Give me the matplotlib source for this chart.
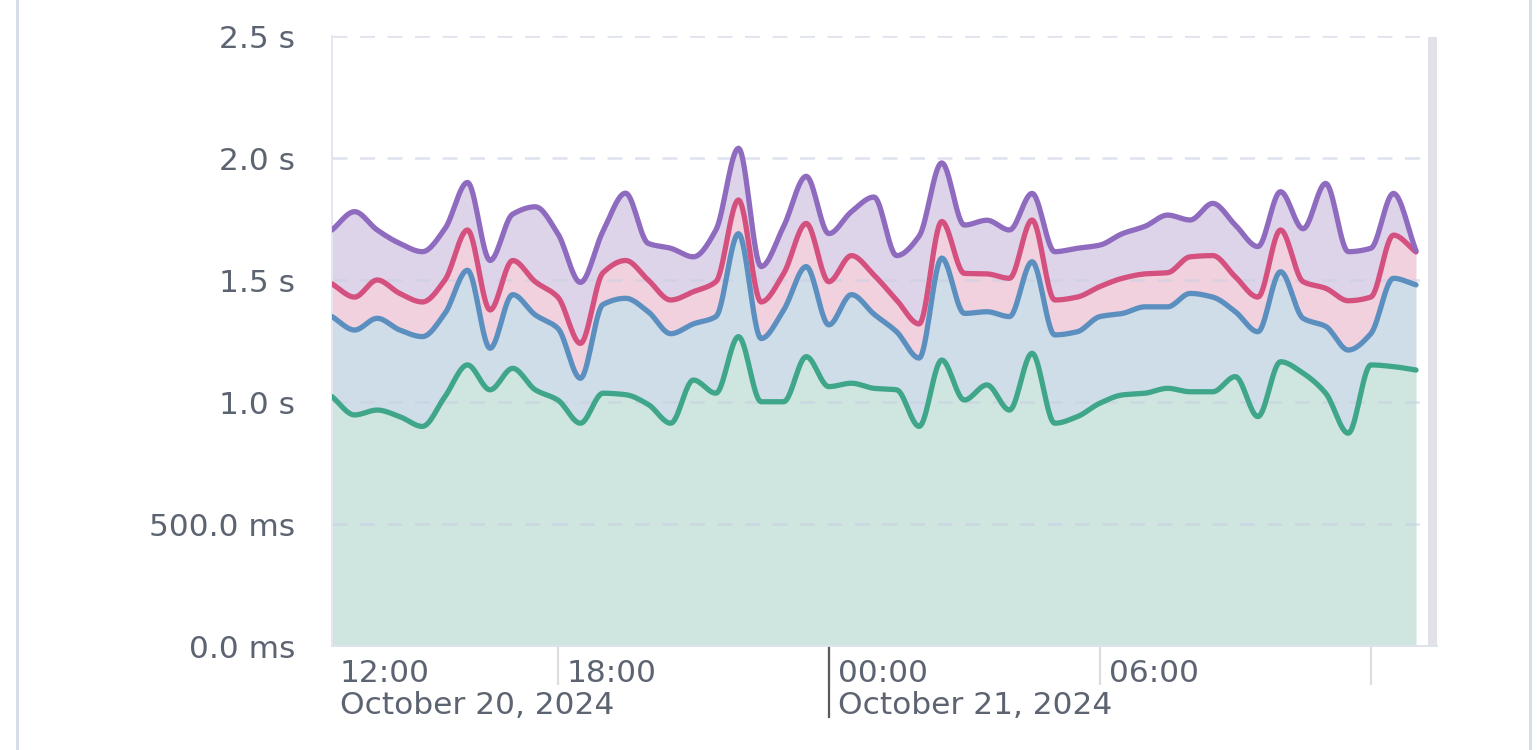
import numpy as np
import pandas as pd
import matplotlib
matplotlib.use("Agg")
import matplotlib.pyplot as plt
import matplotlib.dates as mdates
from matplotlib.lines import Line2D
from matplotlib.transforms import blended_transform_factory

# ---------------- data (seconds, every 30 min) ----------------
start_time = "2024-10-20 13:00"
n_points = 49
green = [1.022, 0.947, 0.967, 0.940, 0.900, 1.022, 1.152, 1.050, 1.138, 1.050,
         1.008, 0.913, 1.036, 1.030, 0.990, 0.913, 1.090, 1.036, 1.268, 1.001,
         1.001, 1.186, 1.063, 1.077, 1.056, 1.050, 0.900, 1.172, 1.008, 1.070,
         0.967, 1.200, 0.913, 0.940, 0.995, 1.029, 1.036, 1.056, 1.042, 1.042,
         1.104, 0.940, 1.165, 1.118, 1.036, 0.872, 1.152, 1.145, 1.131]
blue = [1.350, 1.295, 1.343, 1.295, 1.268, 1.363, 1.540, 1.220, 1.440, 1.357,
        1.302, 1.097, 1.400, 1.425, 1.370, 1.280, 1.320, 1.350, 1.690, 1.260,
        1.377, 1.555, 1.316, 1.440, 1.360, 1.288, 1.180, 1.590, 1.363, 1.370,
        1.350, 1.575, 1.275, 1.288, 1.350, 1.363, 1.390, 1.390, 1.445, 1.430,
        1.370, 1.288, 1.534, 1.343, 1.310, 1.213, 1.280, 1.507, 1.480]
red = [1.484, 1.430, 1.500, 1.445, 1.410, 1.500, 1.705, 1.377, 1.580, 1.493,
       1.430, 1.240, 1.530, 1.580, 1.500, 1.418, 1.452, 1.493, 1.828, 1.410,
       1.527, 1.732, 1.493, 1.600, 1.520, 1.418, 1.320, 1.740, 1.527, 1.525,
       1.507, 1.746, 1.418, 1.430, 1.473, 1.507, 1.525, 1.530, 1.595, 1.600,
       1.513, 1.430, 1.705, 1.493, 1.466, 1.415, 1.430, 1.684, 1.615]
purple = [1.705, 1.780, 1.705, 1.650, 1.616, 1.710, 1.900, 1.580, 1.770, 1.800,
          1.690, 1.490, 1.700, 1.856, 1.650, 1.630, 1.595, 1.705, 2.040, 1.555,
          1.720, 1.925, 1.690, 1.780, 1.840, 1.600, 1.680, 1.980, 1.725, 1.745,
          1.705, 1.855, 1.616, 1.630, 1.643, 1.690, 1.720, 1.766, 1.746, 1.814,
          1.725, 1.637, 1.862, 1.710, 1.896, 1.616, 1.630, 1.855, 1.620]

y_ticks = [0.0, 0.5, 1.0, 1.5, 2.0, 2.5]
y_tick_labels = ["0.0 ms", "500.0 ms", "1.0 s", "1.5 s", "2.0 s", "2.5 s"]
x_tick_times = ["2024-10-20 18:00", "2024-10-21 00:00", "2024-10-21 06:00", "2024-10-21 12:00"]
time_labels = [("2024-10-20 13:00", "12:00"), ("2024-10-20 18:00", "18:00"),
               ("2024-10-21 00:00", "00:00"), ("2024-10-21 06:00", "06:00")]
date_labels = [("2024-10-20 13:00", "October 20, 2024"), ("2024-10-21 00:00", "October 21, 2024")]

# ---------------- style ----------------
line_colors = ["#3fa68a", "#5b8fbf", "#d4517f", "#8f6bbf"]
fill_colors = ["#cfe5df", "#cfdde9", "#f1d1de", "#ded4e9"]
text_color = "#5d6471"
FONT = "DejaVu Sans"
FS = 22.5

times = pd.date_range(start_time, periods=n_points, freq="30min")
x = mdates.date2num(times.to_pydatetime())


def monotone_curve(xs, ys, per_seg=16):
    """Render helper: monotone cubic (like d3 curveMonotoneX) path through data."""
    xs = np.asarray(xs, float)
    ys = np.asarray(ys, float)
    h = np.diff(xs)
    d = np.diff(ys) / h
    m = np.zeros_like(ys)
    for i in range(1, len(ys) - 1):
        if d[i - 1] * d[i] <= 0:
            m[i] = 0.0
        else:
            w1 = 2 * h[i] + h[i - 1]
            w2 = h[i] + 2 * h[i - 1]
            m[i] = (w1 + w2) / (w1 / d[i - 1] + w2 / d[i])
    m[0] = d[0]
    m[-1] = d[-1]
    px, py = [], []
    for i in range(len(xs) - 1):
        t = np.linspace(0, 1, per_seg, endpoint=False)
        h00 = 2 * t**3 - 3 * t**2 + 1
        h10 = t**3 - 2 * t**2 + t
        h01 = -2 * t**3 + 3 * t**2
        h11 = t**3 - t**2
        px.append(xs[i] + t * h[i])
        py.append(h00 * ys[i] + h10 * h[i] * m[i] + h01 * ys[i + 1] + h11 * h[i] * m[i + 1])
    px.append([xs[-1]])
    py.append([ys[-1]])
    return np.concatenate(px), np.concatenate(py)


W, H = 1538, 750
fig = plt.figure(figsize=(W / 100, H / 100), dpi=100)
fig.patch.set_facecolor("white")

# card borders
fig.add_artist(Line2D([16.5 / W, 16.5 / W], [0, 1], color="#d6deea", lw=2.2, transform=fig.transFigure))
fig.add_artist(Line2D([1530 / W, 1530 / W], [0, 1], color="#d6deea", lw=2.2, transform=fig.transFigure))

L, R, T, B = 332, 1437, 36, 646
ax = fig.add_axes([L / W, (H - B) / H, (R - L) / W, (B - T) / H])
ax.set_facecolor("none")

x0 = mdates.date2num(pd.Timestamp(start_time).to_pydatetime())
px_per_day = 271 * 4
x_right = x0 + (R - L) / px_per_day
ax.set_xlim(x0, x_right)
ax.set_ylim(0, 2.5)

series = [green, blue, red, purple]
curves = [monotone_curve(x, s) for s in series]
prev = np.zeros_like(curves[0][1])
for (cx, cy), fc in zip(curves, fill_colors):
    ax.fill_between(cx, prev, cy, color=fc, lw=0, zorder=1)
    prev = cy

# grid (drawn over the fills, light and dashed)
grid_end = x0 + (1427 - L) / px_per_day
for yt in y_ticks[1:]:
    ax.plot([x0, grid_end], [yt, yt], color="#c9cfe2", alpha=0.6, lw=1.8, dashes=(6, 5), zorder=2)

for (cx, cy), lc in zip(curves, line_colors):
    ax.plot(cx, cy, color=lc, lw=3.8, solid_joinstyle="round", solid_capstyle="round", zorder=3)

# right grey bar
ax.axvspan(grid_end + 1 / px_per_day, x_right, ymin=0, ymax=0.998, color="#e1e1e7", lw=0, zorder=0.4)

for s in ["top", "right"]:
    ax.spines[s].set_visible(False)
ax.spines["left"].set_color("#e4e5ee")
ax.spines["left"].set_linewidth(1.4)
ax.spines["bottom"].set_color("#dfe3ee")
ax.spines["bottom"].set_linewidth(1.4)

ax.set_yticks(y_ticks)
ax.set_yticklabels(y_tick_labels, fontsize=FS, color=text_color, family=FONT)
ax.tick_params(axis="y", length=0, pad=37 * 0.72)

tick_x = mdates.date2num(pd.to_datetime(x_tick_times).to_pydatetime())
ax.set_xticks(tick_x)
ax.set_xticklabels([""] * len(tick_x))
ax.tick_params(axis="x", length=39 * 0.72, width=1.6, color="#dcdde3", direction="out")

trans = blended_transform_factory(ax.transData, ax.transAxes)
midnight = mdates.date2num(pd.Timestamp("2024-10-21 00:00").to_pydatetime())
ax.add_line(Line2D([midnight, midnight], [-0.003, -71 / (B - T)], color="#5a5a5a", lw=1.6,
                   transform=trans, clip_on=False, zorder=5))

for tstr, lab in time_labels:
    xv = mdates.date2num(pd.Timestamp(tstr).to_pydatetime())
    off = 8 if tstr == start_time else 9
    ax.annotate(lab, xy=(xv, 0), xycoords=trans, xytext=(off, -13), textcoords="offset pixels",
                ha="left", va="top", fontsize=FS, color=text_color, family=FONT,
                annotation_clip=False)
for tstr, lab in date_labels:
    xv = mdates.date2num(pd.Timestamp(tstr).to_pydatetime())
    off = 8 if tstr == start_time else 9
    ax.annotate(lab, xy=(xv, 0), xycoords=trans, xytext=(off, -45), textcoords="offset pixels",
                ha="left", va="top", fontsize=FS, color=text_color, family=FONT,
                annotation_clip=False)

fig.savefig("out.png", dpi=100)
